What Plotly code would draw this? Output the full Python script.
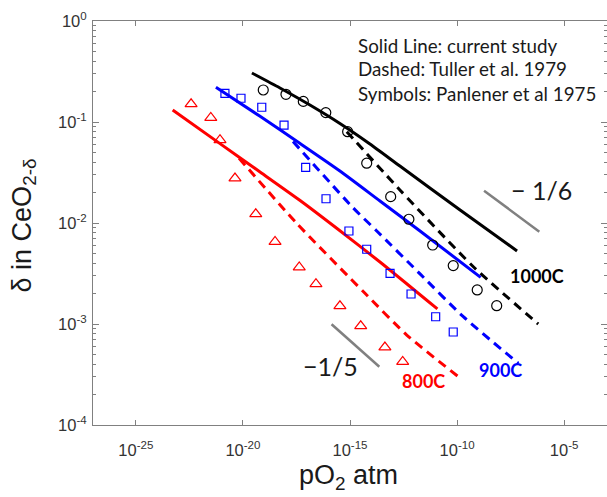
import numpy as np
import plotly.graph_objects as go

# ---- data: log10(pO2 / atm) and log10(delta) ----
# Solid lines: current study
black_solid_logp = [-19.58, -18.27, -16.87, -15.47, -14.07, -12.67, -9.86, -7.20]
black_solid_logd = [-0.515, -0.663, -0.832, -1.015, -1.218, -1.436, -1.871, -2.277]
blue_solid_logp = [-21.26, -19.20, -17.33, -15.47, -13.60, -11.73, -8.90]
blue_solid_logd = [-0.656, -0.944, -1.213, -1.485, -1.782, -2.079, -2.538]
red_solid_logp = [-23.28, -21.07, -19.20, -17.33, -15.62, -13.60, -10.92]
red_solid_logd = [-0.881, -1.214, -1.495, -1.777, -2.052, -2.386, -2.851]

# Dashed lines: Tuller et al. 1979
black_dash_logp = [-15.15, -12.67, -9.24, -6.21]
black_dash_logd = [-1.096, -1.673, -2.433, -3.000]
blue_dash_logp = [-17.66, -14.85, -13.75, -11.73, -9.71, -7.14]
blue_dash_logd = [-1.193, -1.851, -2.079, -2.504, -2.928, -3.389]
red_dash_logp = [-20.18, -17.49, -14.30, -12.35, -9.94]
red_dash_logd = [-1.359, -2.003, -2.696, -3.109, -3.522]

# Symbols: Panlener et al 1975
circ_1000_logp = [-19.05, -17.99, -17.18, -16.13, -15.11, -14.22, -13.10, -12.25, -11.14, -10.18, -9.06, -8.15]
circ_1000_logd = [-0.683, -0.726, -0.796, -0.907, -1.096, -1.408, -1.739, -1.963, -2.218, -2.422, -2.663, -2.819]
sq_900_logp = [-20.84, -20.09, -19.12, -18.08, -17.07, -16.12, -15.05, -14.22, -13.13, -12.15, -11.00, -10.18]
sq_900_logd = [-0.716, -0.765, -0.854, -1.030, -1.449, -1.760, -2.079, -2.260, -2.498, -2.703, -2.928, -3.079]
tri_800_logp = [-22.42, -21.50, -21.07, -20.37, -19.40, -18.50, -17.37, -16.59, -15.47, -14.50, -13.37, -12.54]
tri_800_logd = [-0.822, -0.957, -1.178, -1.557, -1.911, -2.185, -2.438, -2.604, -2.822, -3.020, -3.231, -3.373]

# Reference slope guides
slope6_logp = [-8.74, -6.16]
slope6_logd = [-1.680, -2.086]
slope5_logp = [-15.86, -13.63]
slope5_logd = [-3.003, -3.423]

# Axis ticks
x_tick_exp = [-25, -20, -15, -10, -5]
y_tick_exp = [0, -1, -2, -3, -4]


def lin(v):
    return list(10.0 ** np.asarray(v, dtype=float))


RED, BLUE, BLACK, GRAY = "#ff0000", "#0000ff", "#000000", "#808080"
DASH = "9px,6px"

fig = go.Figure()


def add_line(lp, ld, color, dash=None, width=3, shape="spline"):
    fig.add_trace(go.Scatter(
        x=lin(lp), y=lin(ld), mode="lines",
        line=dict(color=color, width=width, dash=dash, shape=shape, smoothing=0.6),
        showlegend=False, hoverinfo="skip"))


def add_marks(lp, ld, color, symbol, size):
    fig.add_trace(go.Scatter(
        x=lin(lp), y=lin(ld), mode="markers",
        marker=dict(symbol=symbol, size=size, color=color, line=dict(width=1.2, color=color)),
        showlegend=False, hoverinfo="skip"))


add_line(red_dash_logp, red_dash_logd, RED, DASH)
add_line(blue_dash_logp, blue_dash_logd, BLUE, DASH)
add_line(black_dash_logp, black_dash_logd, BLACK, DASH)
add_line(red_solid_logp, red_solid_logd, RED)
add_line(blue_solid_logp, blue_solid_logd, BLUE)
add_line(black_solid_logp, black_solid_logd, BLACK)
add_line(slope6_logp, slope6_logd, GRAY, width=2.5, shape="linear")
add_line(slope5_logp, slope5_logd, GRAY, width=2.5, shape="linear")
add_marks(tri_800_logp, tri_800_logd, RED, "triangle-up-open", 10.5)
add_marks(sq_900_logp, sq_900_logd, BLUE, "square-open", 8)
add_marks(circ_1000_logp, circ_1000_logd, BLACK, "circle-open", 10)

axis_font = dict(family="Liberation Sans, Arial, sans-serif", size=16.5, color="#333333")

y_minor = [m * 10.0 ** e for e in range(-4, 0) for m in range(2, 10)]

fig.update_xaxes(
    type="log", range=[-27, -3],
    tickmode="array", tickvals=lin(x_tick_exp),
    ticktext=[f"10<sup>{e}</sup>" for e in x_tick_exp],
    ticks="inside", ticklen=5, tickcolor=GRAY, tickwidth=1,
    showline=True, linecolor=GRAY, linewidth=1, mirror="allticks",
    showgrid=False, zeroline=False, tickfont=axis_font, ticklabelstandoff=10,
)
fig.update_yaxes(
    type="log", range=[-4, 0],
    tickmode="array", tickvals=lin(y_tick_exp),
    ticktext=[f"10<sup>{e}</sup>" for e in y_tick_exp],
    ticks="inside", ticklen=6, tickcolor=GRAY, tickwidth=1,
    showline=True, linecolor=GRAY, linewidth=1, mirror="allticks",
    showgrid=False, zeroline=False, tickfont=axis_font, ticklabelstandoff=2,
    minor=dict(tickmode="array", tickvals=y_minor, ticks="inside", ticklen=3,
               tickcolor=GRAY, showgrid=False),
)

legend_font = dict(family="Lato", size=18.8, color="#1a1a1a")
notes = [
    # legend text block
    dict(x=-14.72, y=-0.238, text="Solid Line: current study", xanchor="left", font=legend_font),
    dict(x=-14.72, y=-0.475, text="Dashed: Tuller et al. 1979", xanchor="left", font=legend_font),
    dict(x=-14.72, y=-0.713, text="Symbols: Panlener et al 1975", xanchor="left", font=legend_font),
    # slope guide labels
    dict(x=-6.08, y=-1.678, text="\u2212 1/6", xanchor="center",
         font=dict(family="Lato", size=25, color="#1a1a1a")),
    dict(x=-15.91, y=-3.416, text="\u22121/5", xanchor="center",
         font=dict(family="Lato", size=25, color="#1a1a1a")),
    # temperature labels
    dict(x=-6.28, y=-2.522, text="<b>1000C</b>", xanchor="center",
         font=dict(family="Lato", size=18, color=BLACK)),
    dict(x=-7.97, y=-3.455, text="<b>900C</b>", xanchor="center",
         font=dict(family="Lato", size=18, color=BLUE)),
    dict(x=-11.58, y=-3.561, text="<b>800C</b>", xanchor="center",
         font=dict(family="Lato", size=18, color=RED)),
]
for n in notes:
    fig.add_annotation(xref="x", yref="y", showarrow=False, yanchor="middle", **n)

title_font = dict(family="Liberation Sans, Arial, sans-serif", size=27, color="#1a1a1a")
fig.add_annotation(xref="paper", yref="paper", x=-0.135, y=0.493, textangle=-90,
                   text="\u03b4 in CeO<sub>2-\u03b4</sub>", showarrow=False,
                   xanchor="center", yanchor="middle", font=title_font)
fig.add_annotation(xref="paper", yref="paper", x=0.498, y=-0.129,
                   text="pO<sub>2</sub> atm", showarrow=False,
                   xanchor="center", yanchor="middle", font=title_font)

fig.update_layout(
    width=607, height=497,
    margin=dict(l=93, r=0, t=21, b=72),
    paper_bgcolor="white", plot_bgcolor="white",
    showlegend=False,
)

fig.write_html("out.html")
